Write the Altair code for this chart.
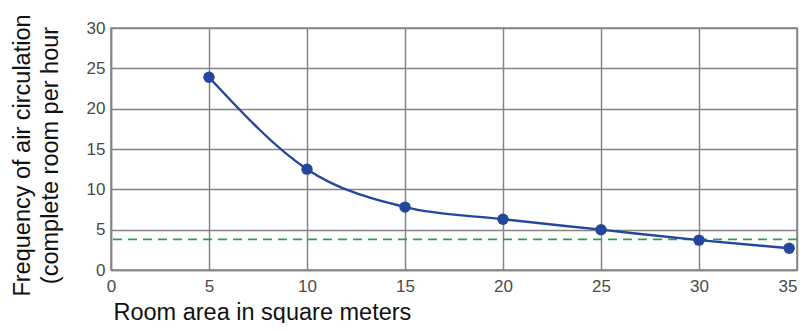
import altair as alt
import pandas as pd

room_area = [5, 10, 15, 20, 25, 30, 34.6]
frequency = [23.9, 12.5, 7.8, 6.3, 5.0, 3.7, 2.7]
reference_level = [3.8]
x_ticks = [0, 5, 10, 15, 20, 25, 30, 35]
y_ticks = [0, 5, 10, 15, 20, 25, 30]

df = pd.DataFrame({"area": room_area, "freq": frequency})
ref = pd.DataFrame({"level": reference_level})

GRID = "#858585"
BLUE = "#23479b"
TITLE_SIZE = 23.5

x_enc = alt.X(
    "area:Q",
    scale=alt.Scale(domain=[0, 35], nice=False),
    axis=alt.Axis(
        values=x_ticks,
        title="Room area in square meters",
        titleFontSize=TITLE_SIZE,
        titleFontWeight="normal",
        titleColor="#111111",
        titleFont="Liberation Sans",
        titleAlign="left",
        titleAnchor="start",
        titleBaseline="alphabetic",
        titleX=2,
        titleY=49,
        labelFontSize=17,
        labelFont="Liberation Sans",
        labelColor="#4a4a4a",
        labelPadding=8,
        labelAlign=alt.expr("datum.value == 35 ? 'right' : 'center'"),
        ticks=False,
        grid=True,
        gridColor=GRID,
        gridWidth=1.5,
        gridOpacity=1,
        domainColor=GRID,
        domainWidth=1.5,
        labelFlush=False,
    ),
)
y_enc = alt.Y(
    "freq:Q",
    scale=alt.Scale(domain=[0, 30], nice=False),
    axis=alt.Axis(
        values=y_ticks,
        title=["Frequency of air circulation", "(complete room per hour"],
        titleFontSize=TITLE_SIZE,
        titleFontWeight="normal",
        titleColor="#111111",
        titleFont="Liberation Sans",
        titleAngle=270,
        titleAlign="center",
        titleBaseline="top",
        titleLineHeight=28,
        titleX=-101,
        titleY=127,
        labelFontSize=17,
        labelFont="Liberation Sans",
        labelColor="#4a4a4a",
        labelPadding=6,
        ticks=False,
        grid=True,
        gridColor=GRID,
        gridWidth=1.5,
        gridOpacity=1,
        domainColor=GRID,
        domainWidth=1.5,
    ),
)

line = alt.Chart(df).mark_line(interpolate="monotone", color=BLUE, strokeWidth=2.4).encode(x=x_enc, y=y_enc)
points = alt.Chart(df).mark_point(filled=True, color=BLUE, size=130, opacity=1).encode(x="area:Q", y="freq:Q")
rule = alt.Chart(ref).mark_rule(color="#2f9e50", strokeDash=[9, 6], strokeWidth=1.6).encode(y="level:Q")

chart = (
    alt.layer(rule, line, points)
    .properties(
        width=686,
        height=242,
        autosize=alt.AutoSizeParams(type="none"),
        padding={"left": 103, "top": 20, "right": 2, "bottom": 53},
        background="white",
    )
    .configure_view(stroke=GRID, strokeWidth=1.5)
)

chart.save("out.html", embed_options={"renderer": "svg", "actions": False})
